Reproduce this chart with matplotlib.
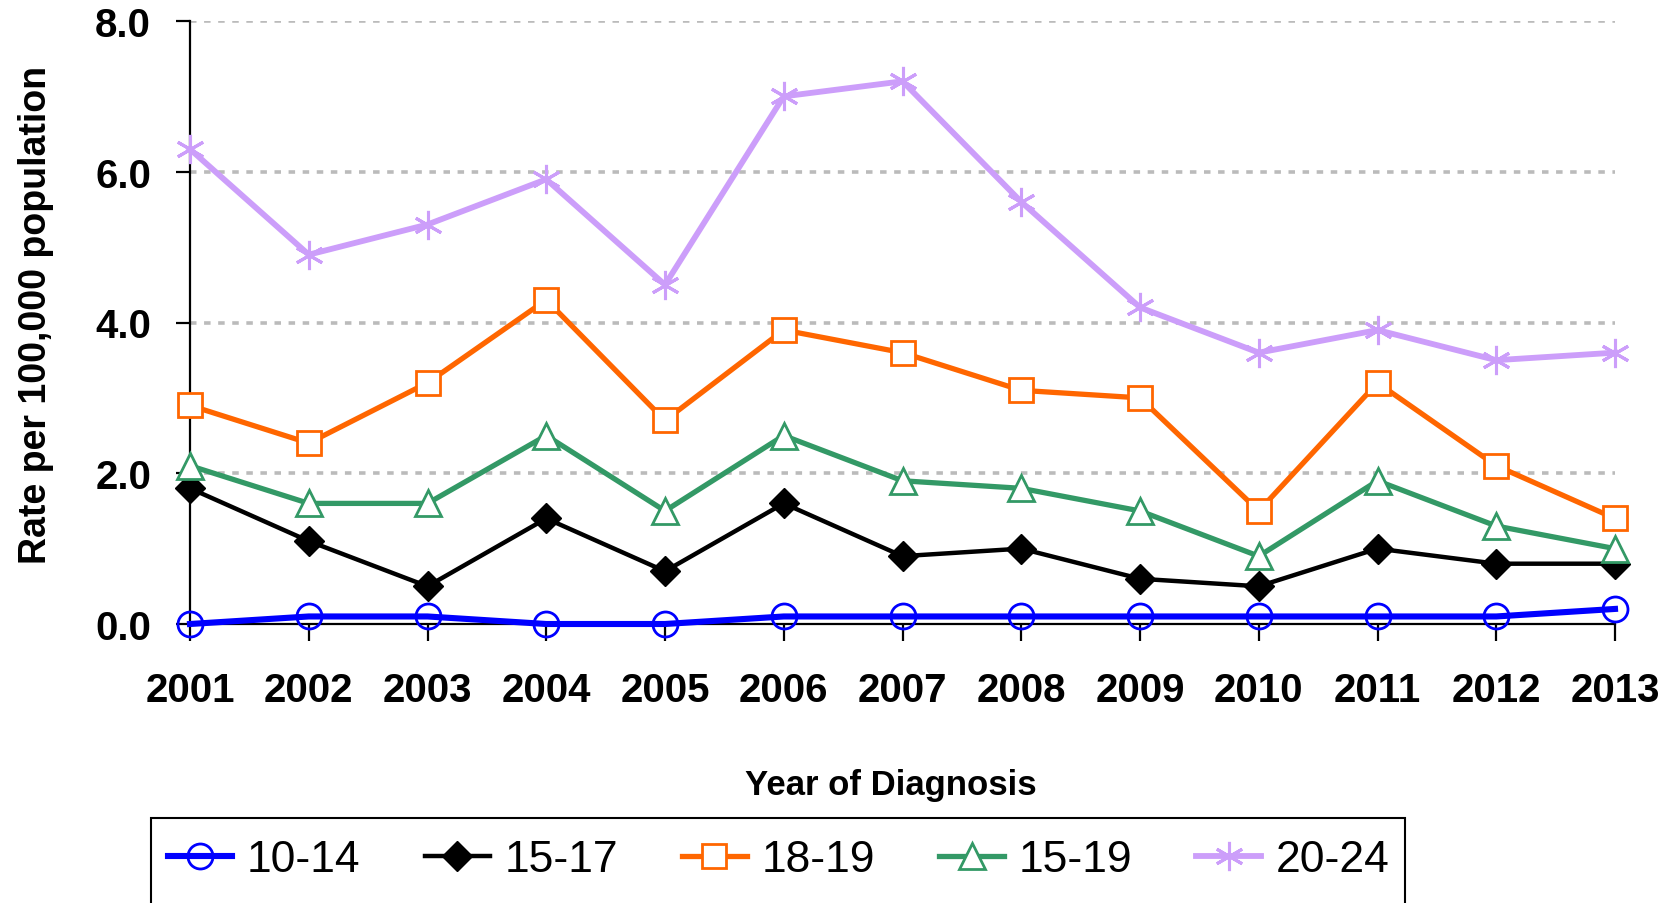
import matplotlib
matplotlib.use('Agg')
import matplotlib.pyplot as plt
from matplotlib.patches import Rectangle

plt.rcParams['font.family'] = ['Liberation Sans', 'DejaVu Sans']

# Rates per 100,000 by age group
years = [2001, 2002, 2003, 2004, 2005, 2006, 2007, 2008, 2009, 2010, 2011, 2012, 2013]
rate_10_14 = [0.0, 0.1, 0.1, 0.0, 0.0, 0.1, 0.1, 0.1, 0.1, 0.1, 0.1, 0.1, 0.2]
rate_15_17 = [1.8, 1.1, 0.5, 1.4, 0.7, 1.6, 0.9, 1.0, 0.6, 0.5, 1.0, 0.8, 0.8]
rate_18_19 = [2.9, 2.4, 3.2, 4.3, 2.7, 3.9, 3.6, 3.1, 3.0, 1.5, 3.2, 2.1, 1.4]
rate_15_19 = [2.1, 1.6, 1.6, 2.5, 1.5, 2.5, 1.9, 1.8, 1.5, 0.9, 1.9, 1.3, 1.0]
rate_20_24 = [6.3, 4.9, 5.3, 5.9, 4.5, 7.0, 7.2, 5.6, 4.2, 3.6, 3.9, 3.5, 3.6]
yticks = [0, 2, 4, 6, 8]

W, H = 1675, 904
fig = plt.figure(figsize=(W / 100, H / 100), dpi=100)
ax = fig.add_axes([190 / W, 1 - 625 / H, (1615 - 190) / W, (625 - 22) / H])

ax.plot(years, rate_20_24, color='#CC9EFA', lw=4.2, marker=(6, 2, 0), ms=21,
        mew=2.2, label='20-24', zorder=3, clip_on=False)
ax.plot(years, rate_18_19, color='#FF6600', lw=3.8, marker='s', ms=17,
        mfc='white', mec='#FF6600', mew=2.0, label='18-19', zorder=4,
        clip_on=False)
ax.plot(years, rate_15_19, color='#339966', lw=3.8, marker='^', ms=19,
        mfc='white', mec='#339966', mew=2.0, label='15-19', zorder=5,
        clip_on=False)
ax.plot(years, rate_15_17, color='black', lw=3.2, marker='D', ms=15,
        label='15-17', zorder=4.5, clip_on=False)
ax.plot(years, rate_10_14, color='#0000FF', lw=4.4, marker='o', ms=18,
        mfc='none', mec='#0000FF', mew=2.0, label='10-14', zorder=6,
        clip_on=False)

ax.set_xlim(2001, 2013)
ax.set_ylim(0, 8)
ax.set_xticks(years)
ax.set_xticklabels([str(y) for y in years])
ax.set_yticks(yticks)
ax.set_yticklabels([f'{v:.1f}' for v in yticks])

for v in yticks[1:]:
    ax.axhline(v, color='#BBBBBB', lw=2.6, ls=(0, (1.8, 2.1)), zorder=1)

for s in ['top', 'right']:
    ax.spines[s].set_visible(False)
ax.spines['left'].set_linewidth(1.6)
ax.spines['bottom'].set_linewidth(1.6)
ax.tick_params(axis='y', length=10, width=1.6, pad=18, labelsize=29)
ax.tick_params(axis='x', length=12, width=1.6, pad=22, labelsize=29)
for lab in ax.get_xticklabels() + ax.get_yticklabels():
    lab.set_fontweight('bold')

ax.set_ylabel('Rate per 100,000 population', fontsize=27, fontweight='bold',
              labelpad=30, y=0.515)
fig.text(0.532, 1 - 786 / H, 'Year of Diagnosis', fontsize=25,
         fontweight='bold', ha='center', va='center')

# legend, order as in the reference
handles, labels = ax.get_legend_handles_labels()
order = ['10-14', '15-17', '18-19', '15-19', '20-24']
hmap = dict(zip(labels, handles))
fig.legend([hmap[k] for k in order], order, ncol=5, loc='center left',
           bbox_to_anchor=(168 / W, 1 - 861 / H), frameon=False,
           fontsize=32, handlelength=1.45, handletextpad=0.33,
           columnspacing=1.45, borderpad=0, borderaxespad=0)
fig.patches.append(Rectangle((151 / W, -0.05), (1405 - 151) / W,
                             (0.05 + 1 - 819 / H), transform=fig.transFigure,
                             fill=False, edgecolor='black', lw=1.5))

fig.savefig('out.png', dpi=100)
